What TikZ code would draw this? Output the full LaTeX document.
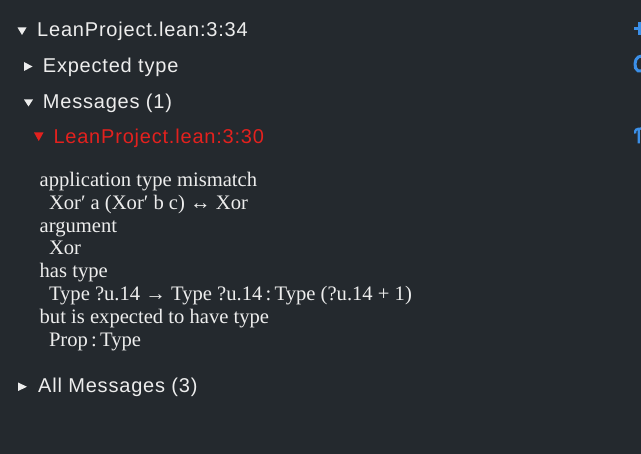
\documentclass[tikz,border=0pt]{standalone}
\usepackage{fontspec}
\newfontfamily\uisans[LetterSpace=4]{Liberation Sans}
\newfontfamily\msgfont{Liberation Serif}
\definecolor{bg}{HTML}{24292E}
\definecolor{fg}{HTML}{EDEDED}
\definecolor{errred}{HTML}{E3211E}
\definecolor{iconblue}{HTML}{3B8FE8}
\newcommand\tcolon{\hspace{0.16em}:\hspace{0.16em}}
\tikzset{
  ui/.style={anchor=base west, inner sep=0pt, text=fg, font=\uisans\fontsize{20}{24}\selectfont},
  err/.style={ui, text=errred},
  msg/.style={anchor=base west, inner sep=0pt, text=fg, font=\msgfont\fontsize{20.6}{23}\selectfont},
  icon/.style={draw=iconblue, line width=2.6pt},
}
\begin{document}
\begin{tikzpicture}[x=1pt,y=-1pt]
\useasboundingbox (0,0) rectangle (641,454);
\fill[bg] (0,0) rectangle (641,454);
% disclosure triangles
\fill[fg] (17.5,27.5) -- (26.5,27.5) -- (22,35) -- cycle;
\fill[fg] (24,62) -- (24,71) -- (32.5,66.5) -- cycle;
\fill[fg] (24,99.5) -- (33,99.5) -- (28.5,106.5) -- cycle;
\fill[errred] (34,132.5) -- (43.5,132.5) -- (38.75,141) -- cycle;
\fill[fg] (18,382.5) -- (18,391) -- (27,386.75) -- cycle;
% headings
\node[ui] (pos) at (37,36.5) {LeanProject.lean:3:34};
\node[ui] (exp) at (42.7,72.7) {Expected type};
\node[ui] (msgs) at (42.7,109) {Messages (1)};
\node[err] (errpos) at (53.3,144) {LeanProject.lean:3:30};
% message body
\node[msg] (l1) at (39.5,186.7) {application type mismatch};
\node[msg] (l2) at (48.8,209.5) {Xor′ a (Xor′ b c) ↔ Xor};
\node[msg] (l3) at (39.5,232.3) {argument};
\node[msg] (l4) at (48.8,255) {Xor};
\node[msg] (l5) at (39.5,278) {has type};
\node[msg] (l6) at (48.8,301) {Type ?u.14 → Type ?u.14\tcolon Type (?u.14 + 1)};
\node[msg] (l7) at (39.5,324) {but is expected to have type};
\node[msg] (l8) at (48.8,346.7) {Prop\tcolon Type};
\node[ui] (all) at (38,392.3) {All Messages (3)};
% cut-off icons at the right edge
\draw[icon] (634,28.5) -- (642,28.5) (639.5,22) -- (639.5,35);
\draw[icon, line width=3pt] (642,56) .. controls (636,56) and (634,62) .. (635.5,68) .. controls (636.5,71) and (639,71.5) .. (642,71);
\draw[icon, line width=2.3pt] (635.3,133.5) .. controls (634.5,130) and (636,128.5) .. (642,128.5) (638.7,128.5) -- (638.7,143.3);
\end{tikzpicture}
\end{document}
